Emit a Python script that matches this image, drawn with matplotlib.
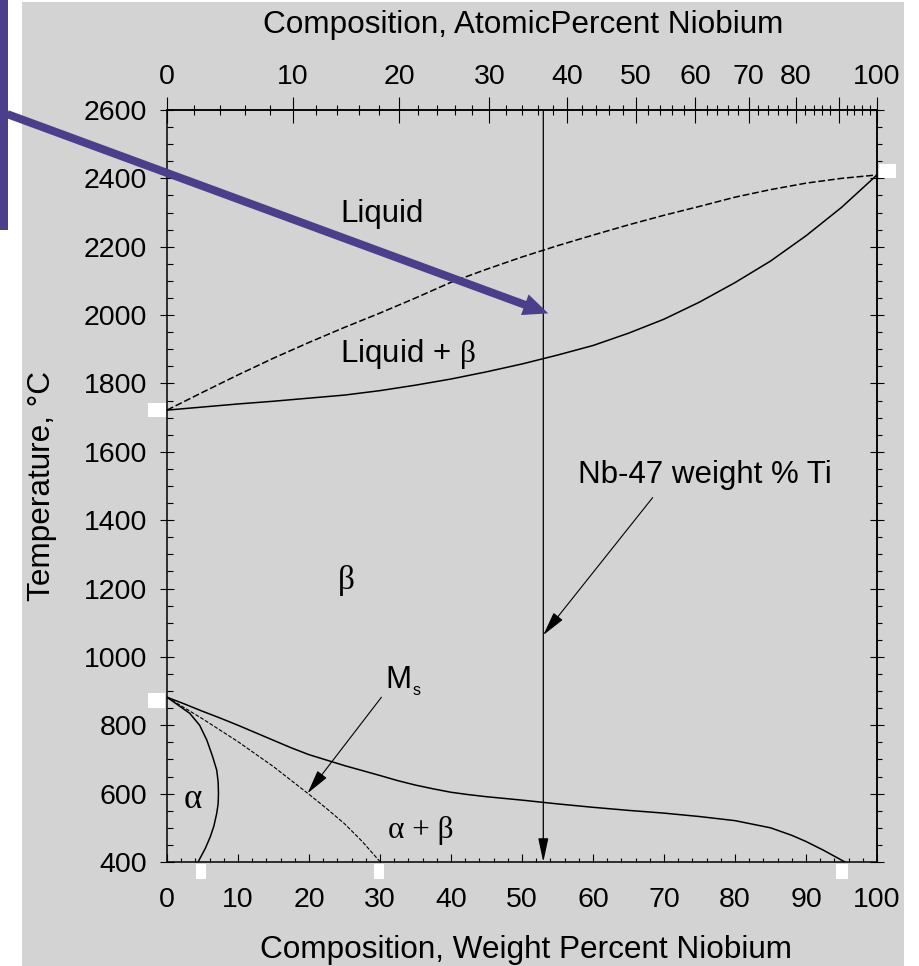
import numpy as np
import matplotlib
matplotlib.use("Agg")
from matplotlib import pyplot as plt
from matplotlib import transforms as mtransforms
from matplotlib.patches import Rectangle
from matplotlib.ticker import FixedFormatter, FixedLocator, MultipleLocator

plt.rcParams["font.family"] = ["Liberation Sans", "DejaVu Sans"]
plt.rcParams["mathtext.fontset"] = "custom"
plt.rcParams["mathtext.rm"] = "Liberation Serif"

GRAY = "#d3d3d3"
PURPLE = "#4b3f8b"

M_TI = 47.867
M_NB = 92.906

# liquidus (dashed) and solidus, weight % Nb vs temperature
liq_x = [0, 5, 10, 15, 20, 25, 30, 35, 40, 45, 50, 55, 60, 65, 70, 75, 80, 85, 90, 95, 100]
liq_T = [1722, 1774, 1825, 1874, 1920, 1964, 2006, 2050, 2096, 2134, 2170, 2203, 2234,
         2264, 2292, 2318, 2345, 2367, 2386, 2400, 2410]
sol_x = [0, 5, 10, 15, 20, 25, 30, 35, 40, 45, 50, 55, 60, 65, 70, 75, 80, 85, 90, 95, 100]
sol_T = [1722, 1731, 1740, 1748, 1757, 1766, 1779, 1795, 1813, 1834, 1857, 1883, 1911,
         1947, 1988, 2038, 2095, 2158, 2232, 2315, 2410]

# beta transus
bt_x = [0, 2.5, 5, 7.5, 10, 12.5, 15, 17.5, 20, 25, 30, 32.5, 35, 37.5, 40, 42.5, 45,
        47.5, 50, 55, 60, 65, 70, 75, 80, 85, 88, 90, 92.5, 95.4]
bt_T = [882, 862, 841, 821, 800, 778, 756, 734, 714, 682, 653, 638, 625, 614, 604, 597,
        591, 586, 581, 570, 560, 551, 543, 533, 521, 500, 478, 460, 434, 401]

# alpha / alpha+beta boundary
al_x = [0, 1.5, 3.2, 4.6, 5.6, 6.4, 7.0, 7.2, 7.25, 7.2, 7.0, 6.6, 6.1, 5.4, 4.4]
al_T = [882, 860, 835, 800, 757, 710, 669, 635, 601, 570, 542, 505, 474, 440, 401]

# martensite start (dashed)
ms_x = [0, 5, 10, 15, 20, 22.5, 25, 27.5, 30]
ms_T = [882, 819, 752, 679, 598, 556, 512, 460, 401]

alloy_wt = 53.0  # Nb-47 wt% Ti

bottom_ticks = list(range(0, 101, 10))
top_ticks = list(range(0, 101, 10))
top_labels = ["0", "10", "20", "30", "40", "50", "60", "70", "80", "", "100"]
top_minor = [a for a in range(0, 101, 2) if a % 10]


def wt_to_at(w):
    w = np.asarray(w, dtype=float)
    with np.errstate(divide="ignore", invalid="ignore"):
        nb = w / M_NB
        ti = (100.0 - w) / M_TI
        return 100.0 * nb / (nb + ti)


def at_to_wt(a):
    a = np.asarray(a, dtype=float)
    with np.errstate(divide="ignore", invalid="ignore"):
        nb = a * M_NB
        ti = (100.0 - a) * M_TI
        return 100.0 * nb / (nb + ti)


fig = plt.figure(figsize=(9.19, 9.66), dpi=100)
fig.patches.append(Rectangle((22 / 919, 0), 882 / 919, 964 / 966, transform=fig.transFigure,
                             facecolor=GRAY, edgecolor="none", zorder=-10))
fig.patches.append(Rectangle((0, 736 / 966), 8 / 919, 230 / 966, transform=fig.transFigure,
                             facecolor=PURPLE, edgecolor="none", zorder=-9))

ax = fig.add_axes([167 / 919, 104 / 966, 710 / 919, 752 / 966])
ax.set_facecolor(GRAY)
ax.set_xlim(0, 100)
ax.set_ylim(400, 2600)
for s in ax.spines.values():
    s.set_linewidth(1.1)

lw = 1.1
ax.plot(liq_x, liq_T, color="black", lw=lw, dashes=(4.5, 1.8))
ax.plot(sol_x, sol_T, color="black", lw=lw)
ax.plot(bt_x, bt_T, color="black", lw=lw)
ax.plot(al_x, al_T, color="black", lw=lw)
ax.plot(ms_x, ms_T, color="black", lw=0.8, dashes=(3.5, 1.5))

# ticks: bottom
ax.xaxis.set_major_locator(FixedLocator(bottom_ticks))
ax.xaxis.set_minor_locator(MultipleLocator(2))
ax.tick_params(axis="x", which="major", direction="in", length=5.5, width=0.8,
               labelsize=20.5, pad=18, top=False)
ax.tick_params(axis="x", which="minor", direction="in", length=3.2, width=0.8, top=False)
# ticks: left
ax.yaxis.set_major_locator(MultipleLocator(200))
ax.yaxis.set_minor_locator(MultipleLocator(50))
ax.tick_params(axis="y", which="major", direction="inout", length=9.4, width=0.8,
               labelsize=20.5, pad=9.7, right=False)
ax.tick_params(axis="y", which="minor", direction="in", length=4, width=0.8, right=False)

# right axis
secy = ax.secondary_yaxis("right")
secy.yaxis.set_major_locator(MultipleLocator(200))
secy.yaxis.set_minor_locator(MultipleLocator(50))
secy.tick_params(which="major", direction="inout", length=10, width=0.8, labelright=False)
secy.tick_params(which="minor", direction="out", length=3.5, width=0.8)
secy.spines["right"].set_linewidth(1.1)

# top atomic percent axis
secx = ax.secondary_xaxis("top", functions=(wt_to_at, at_to_wt))
secx.xaxis.set_major_locator(FixedLocator(top_ticks))
secx.xaxis.set_major_formatter(FixedFormatter(top_labels))
secx.xaxis.set_minor_locator(FixedLocator(top_minor))
secx.tick_params(which="major", direction="inout", length=18.7, width=0.8,
                 labelsize=20.5, pad=5)
secx.tick_params(which="minor", direction="inout", length=7.5, width=0.8)
secx.spines["top"].set_linewidth(1.1)

# axis labels
ax.set_xlabel("Composition, Weight Percent Niobium", fontsize=22.7)
ax.xaxis.set_label_coords(0.506, -0.1277)
ax.xaxis.label.set_verticalalignment("baseline")
ax.text(0.502, 1.1024, "Composition, AtomicPercent Niobium", fontsize=22.7,
        transform=ax.transAxes, ha="center", va="baseline")
ax.set_ylabel("Temperature, °C", fontsize=22.7)
ax.yaxis.set_label_coords(-0.176, 0.5)
ax.yaxis.label.set_verticalalignment("center")

# alloy line with arrow
arrow_thin = "-|>,head_length=14.5,head_width=3.1"
ax.annotate("", xy=(alloy_wt, 400), xytext=(alloy_wt, 2600),
            arrowprops=dict(arrowstyle=arrow_thin, mutation_scale=1, shrinkA=0, shrinkB=0,
                            lw=0.9, color="black"), annotation_clip=False)

# region labels
fs = 22.5
ax.text(24.4, 2273, "Liquid", fontsize=fs, va="baseline", ha="left")
ax.text(24.4, 1864, r"Liquid + $\mathrm{\beta}$", fontsize=fs, va="baseline", ha="left")
ax.text(25.2, 1200, "β", fontsize=24, family="Liberation Serif", va="baseline", ha="center")
ax.text(3.66, 558, "α", fontsize=25, family="Liberation Serif", va="baseline", ha="center")
ax.text(35.8, 470, "α + β", fontsize=fs, family="Liberation Serif", va="baseline", ha="center")
m_txt = ax.text(30.7, 909, "M", fontsize=fs, va="baseline", ha="left")
ax.annotate("s", xy=(1, 0), xycoords=m_txt, xytext=(1, 0), textcoords="offset points",
            fontsize=11.5, va="baseline", ha="left")
ax.text(75.7, 1508, "Nb-47 weight % Ti", fontsize=fs, va="baseline", ha="center")

ax.annotate("", xy=(alloy_wt, 1064), xytext=(68.4, 1466),
            arrowprops=dict(arrowstyle="-|>,head_length=15,head_width=3.6", mutation_scale=1,
                            shrinkA=0, shrinkB=0, lw=0.8, color="black"))
ax.annotate("", xy=(19.8, 601), xytext=(30.2, 882),
            arrowprops=dict(arrowstyle="-|>,head_length=15,head_width=3.6", mutation_scale=1,
                            shrinkA=0, shrinkB=0, lw=0.8, color="black"))

# purple pointer
ax.annotate("", xy=(53.7, 2005), xytext=(-22.5, 2588), annotation_clip=False,
            arrowprops=dict(arrowstyle="simple,head_length=18,head_width=15.8,tail_width=5.8",
                            mutation_scale=1, shrinkA=0, shrinkB=0, lw=0,
                            facecolor=PURPLE, edgecolor="none"), zorder=6)

# white handle squares at curve ends: anchor, then pixel offset and size
squares = [
    ((liq_x[0], liq_T[0]), (-19, -7, 18, 14)),
    ((liq_x[-1], liq_T[-1]), (2, -3, 17, 14)),
    ((bt_x[0], bt_T[0]), (-19, -11, 17, 15)),
    ((al_x[-1], 400), (-2, -17, 10, 15)),
    ((ms_x[-1], 400), (-6, -17, 10, 15)),
    ((bt_x[-1], 400), (-8, -17, 12, 15)),
]
for (x, y), (dx, dy, w, h) in squares:
    tr = mtransforms.ScaledTranslation(x, y, ax.transData)
    ax.add_patch(Rectangle((dx, dy), w, h, transform=tr, facecolor="white",
                           edgecolor="none", clip_on=False, zorder=7))

fig.savefig("out.png", dpi=100, facecolor="white")
